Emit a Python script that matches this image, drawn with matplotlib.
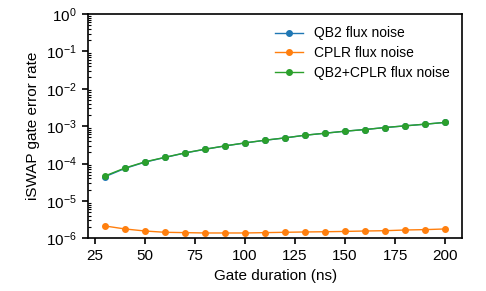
import numpy as np
import matplotlib.pyplot as plt

plt.rcParams['font.family'] = ['Liberation Sans', 'DejaVu Sans']

# gate duration (ns)
duration = [30, 40, 50, 60, 70, 80, 90, 100, 110, 120, 130, 140, 150, 160, 170, 180, 190, 200]

# error rates
err_total = [4.66e-5, 7.6e-5, 1.11e-4, 1.47e-4, 1.93e-4, 2.42e-4, 2.97e-4, 3.57e-4, 4.21e-4,
             4.86e-4, 5.73e-4, 6.48e-4, 7.34e-4, 8.13e-4, 9.2e-4, 1.02e-3, 1.13e-3, 1.26e-3]
err_cplr = [2.14e-6, 1.78e-6, 1.57e-6, 1.45e-6, 1.42e-6, 1.39e-6, 1.39e-6, 1.39e-6, 1.42e-6,
            1.45e-6, 1.48e-6, 1.50e-6, 1.53e-6, 1.57e-6, 1.60e-6, 1.67e-6, 1.71e-6, 1.78e-6]
err_qb2 = [4.45e-5, 7.42e-5, 1.09e-4, 1.455e-4, 1.915e-4, 2.405e-4, 2.955e-4, 3.555e-4, 4.195e-4,
           4.845e-4, 5.715e-4, 6.465e-4, 7.325e-4, 8.115e-4, 9.18e-4, 1.018e-3, 1.128e-3, 1.258e-3]

fig = plt.figure(figsize=(4.86, 2.91), dpi=100)
ax = fig.add_axes([0.181, 0.181, 0.770, 0.771])

ax.plot(duration, err_qb2, '-o', color='#1f77b4', lw=1, ms=4, label='QB2 flux noise')
ax.plot(duration, err_cplr, '-o', color='#ff7f0e', lw=1, ms=4, label='CPLR flux noise')
ax.plot(duration, err_total, '-o', color='#2ca02c', lw=1, ms=4, label='QB2+CPLR flux noise')

ax.set_yscale('log')
ax.set_ylim(1e-6, 1)
ax.set_xticks([25, 50, 75, 100, 125, 150, 175, 200])
ax.set_xlabel('Gate duration (ns)', fontsize=11)
ax.set_ylabel('iSWAP gate error rate', fontsize=11)

ax.tick_params(which='major', direction='out', length=4.5, width=1.2, labelsize=11)
ax.tick_params(which='minor', direction='in', length=2.5, width=0.8)
for s in ax.spines.values():
    s.set_linewidth(1.2)

ax.legend(loc='upper right', frameon=False, fontsize=10, handlelength=2.0,
          labelspacing=0.4)

fig.savefig('out.png', dpi=100)
